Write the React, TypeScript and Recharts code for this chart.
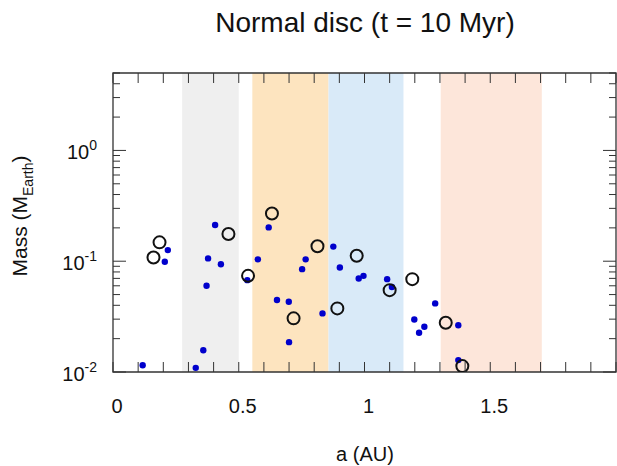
import { ScatterChart, Scatter, XAxis, YAxis, ReferenceArea } from "recharts";

// small bodies (blue dots)
const DOT_A = [0.118, 0.218, 0.206, 0.406, 0.378, 0.429, 0.372, 0.359, 0.329, 0.534, 0.576, 0.619, 0.652, 0.699, 0.7, 0.752, 0.766, 0.833, 0.876, 0.902, 0.977, 0.996, 1.09, 1.109, 1.281, 1.198, 1.238, 1.217, 1.373, 1.373];
const DOT_M = [0.0115, 0.126, 0.099, 0.212, 0.106, 0.094, 0.06, 0.0157, 0.0109, 0.0675, 0.104, 0.202, 0.0446, 0.043, 0.0186, 0.0848, 0.104, 0.0338, 0.1355, 0.0877, 0.0699, 0.0738, 0.0689, 0.0586, 0.0416, 0.0298, 0.0256, 0.0226, 0.0264, 0.0128];

// large bodies (open circles)
const RING_A = [0.161, 0.185, 0.459, 0.537, 0.632, 0.718, 0.813, 0.892, 0.969, 1.1, 1.19, 1.323, 1.389];
const RING_M = [0.108, 0.148, 0.176, 0.0738, 0.27, 0.0305, 0.1365, 0.0375, 0.112, 0.0548, 0.0689, 0.0278, 0.0113];

// shaded zones [from, to, colour]
const BANDS: [number, number, string][] = [
  [0.275, 0.5, "#efefef"],
  [0.554, 0.857, "#fde4bf"],
  [0.857, 1.155, "#d9eaf8"],
  [1.303, 1.705, "#fde6da"],
];

const X_TICKS = [0, 0.1, 0.2, 0.3, 0.4, 0.5, 0.6, 0.7, 0.8, 0.9, 1, 1.1, 1.2, 1.3, 1.4, 1.5, 1.6, 1.7, 1.8, 1.9, 2];
const X_LABELS = [0, 0.5, 1, 1.5];
const Y_TICKS = [0.01, 0.02, 0.03, 0.04, 0.05, 0.06, 0.07, 0.08, 0.09, 0.1, 0.2, 0.3, 0.4, 0.5, 0.6, 0.7, 0.8, 0.9, 1, 2, 3, 4, 5];
const Y_MAJOR = [0.01, 0.1, 1];

const W = 617;
const H = 466;
const LEFT = 113;
const RIGHT = 616;
const TOP = 73;
const BOTTOM = 372;
const FONT = "'Liberation Sans', Arial, sans-serif";
const AXIS = "#333";

const dots = DOT_A.map((a, i) => ({ a, m: DOT_M[i] }));
const rings = RING_A.map((a, i) => ({ a, m: RING_M[i] }));

function XTick(props: any) {
  const { x, payload } = props;
  const v = payload.value;
  return (
    <g>
      <line x1={x} x2={x} y1={BOTTOM} y2={BOTTOM - 10} stroke={AXIS} strokeWidth={1} />
      <line x1={x} x2={x} y1={TOP} y2={TOP + 10} stroke={AXIS} strokeWidth={1} />
      {X_LABELS.includes(v) && (
        <text x={x + 4} y={413} textAnchor="middle" fontSize={20} fontFamily={FONT} fill="#111">
          {String(v)}
        </text>
      )}
    </g>
  );
}

function YTick(props: any) {
  const { y, payload } = props;
  const v = payload.value;
  const major = Y_MAJOR.includes(v);
  const len = major ? 13 : 7;
  return (
    <g>
      <line x1={LEFT} x2={LEFT + len} y1={y} y2={y} stroke={AXIS} strokeWidth={1} />
      <line x1={RIGHT} x2={RIGHT - len} y1={y} y2={y} stroke={AXIS} strokeWidth={1} />
      {major && (
        <text x={97} y={y + 9} textAnchor="end" fontSize={20} fontFamily={FONT} fill="#111">
          <tspan>10</tspan>
          <tspan dy={-9} fontSize={14}>{String(Math.round(Math.log10(v)))}</tspan>
        </text>
      )}
    </g>
  );
}

const Dot = (p: any) => <circle cx={p.cx} cy={p.cy} r={3.2} fill="#0000cc" />;
const Ring = (p: any) => <circle cx={p.cx} cy={p.cy} r={6} fill="none" stroke="#111" strokeWidth={2} />;

export default function App() {
  return (
    <div style={{ position: "absolute", left: 0, top: 0, width: W, height: H, background: "#fff", fontFamily: FONT }}>
      <div style={{ position: "absolute", left: 0, width: W, top: 7, textAlign: "center", fontSize: 28, color: "#111", paddingLeft: 113, boxSizing: "border-box" }}>
        Normal disc (t = 10 Myr)
      </div>
      <div
        style={{
          position: "absolute",
          left: 22,
          top: 216,
          transform: "translate(-50%, -50%) rotate(-90deg)",
          whiteSpace: "nowrap",
          fontSize: 21,
          color: "#111",
        }}
      >
        Mass (M<sub style={{ fontSize: 14 }}>Earth</sub>)
      </div>
      <div style={{ position: "absolute", left: 0, width: W, top: 443, textAlign: "center", fontSize: 20, color: "#111", paddingLeft: 113, boxSizing: "border-box" }}>
        a (AU)
      </div>
      <ScatterChart width={W} height={H} margin={{ top: TOP, right: W - RIGHT, bottom: 0, left: 0 }}>
        <XAxis
          type="number"
          dataKey="a"
          domain={[0, 2]}
          ticks={X_TICKS}
          interval={0}
          height={H - BOTTOM}
          tickLine={false}
          axisLine={false}
          tick={XTick}
          allowDataOverflow
        />
        <YAxis
          type="number"
          dataKey="m"
          scale="log"
          domain={[0.01, 5]}
          ticks={Y_TICKS}
          interval={0}
          width={LEFT}
          tickLine={false}
          axisLine={false}
          tick={YTick}
          allowDataOverflow
        />
        {BANDS.map(([x1, x2, c], i) => (
          <ReferenceArea key={i} x1={x1} x2={x2} y1={0.01} y2={5} fill={c} fillOpacity={1} stroke="none" />
        ))}
        <Scatter data={dots} shape={Dot} isAnimationActive={false} />
        <Scatter data={rings} shape={Ring} isAnimationActive={false} />
        <ReferenceArea x1={0} x2={2} y1={0.01} y2={5} fill="none" stroke={AXIS} strokeWidth={1.3} />
      </ScatterChart>
    </div>
  );
}
